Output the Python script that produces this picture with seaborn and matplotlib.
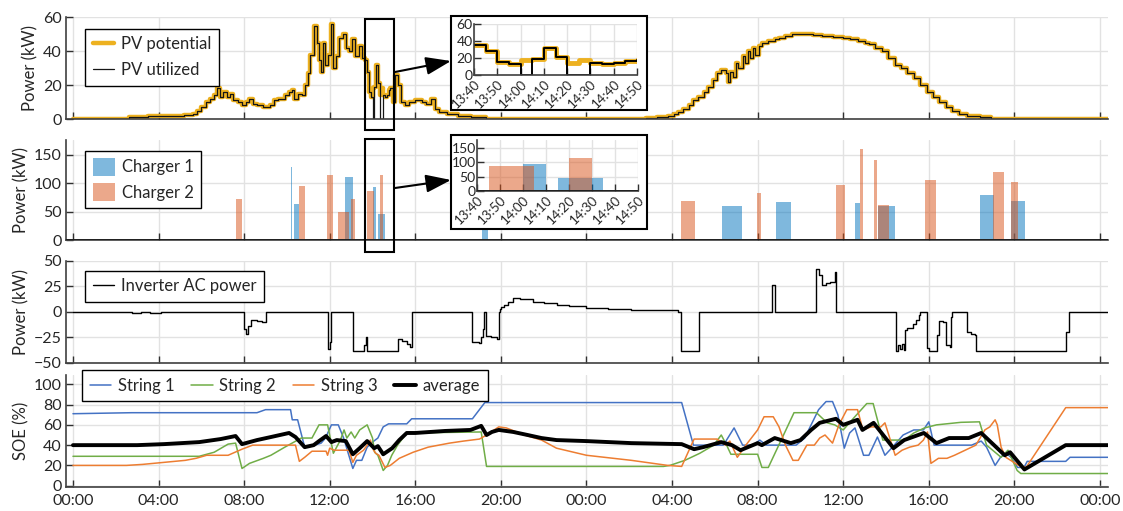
import numpy as np
import seaborn as sns
import matplotlib.pyplot as plt
from matplotlib.patches import Rectangle, FancyArrowPatch
from matplotlib.ticker import FuncFormatter

# time axis is hours counted from 00:00 of the first day

# PV power (kW), step values that hold from each time
pv_time = [0, 2.6, 3.5, 4.5, 5.2, 5.6, 5.8, 6.0, 6.2, 6.4, 6.6, 6.75, 6.85, 7.0, 7.2,
           7.35, 7.5, 7.7, 7.9, 8.1, 8.25, 8.4, 8.6, 8.9, 9.2, 9.4, 9.6, 9.9, 10.1,
           10.25, 10.35, 10.5, 10.7, 10.85, 11.0, 11.1, 11.25, 11.4, 11.5, 11.6, 11.7,
           11.8, 11.9, 12.05, 12.15, 12.3, 12.45, 12.6, 12.75, 12.9, 13.05, 13.2, 13.35,
           13.5, 13.6667, 13.75, 13.8333, 13.9167, 14.0, 14.0833, 14.1667, 14.25,
           14.3333, 14.4167, 14.5, 14.5833, 14.6667, 14.75, 14.8333, 14.95, 15.05,
           15.2, 15.35, 15.5, 15.7, 16.0, 16.3, 16.5, 16.75, 16.9, 17.1, 17.5, 18.0,
           18.6, 19.3, 26.8, 27.3, 27.8, 28.1, 28.3, 28.5, 28.8, 29.0, 29.2, 29.5,
           29.7, 29.9, 30.1, 30.3, 30.5, 30.6, 30.7, 30.85, 31.0, 31.1, 31.3, 31.4,
           31.55, 31.65, 31.8, 31.9, 32.05, 32.2, 32.5, 32.8, 33.0, 33.3, 33.6, 34.2,
           34.6, 35.0, 35.5, 36.0, 36.3, 36.7, 37.0, 37.2, 37.5, 37.8, 38.1, 38.4,
           38.7, 39.0, 39.3, 39.6, 39.9, 40.2, 40.5, 40.8, 41.1, 41.4, 41.8, 42.4,
           42.9, 48.4]
pv_potential = [0, 1, 1.5, 2, 2.5, 3, 5, 7, 10, 12, 14, 18, 13, 16, 13,
                15, 11, 10, 8, 10, 12, 9, 8, 7, 8, 11, 12, 14, 16,
                17, 12, 15, 14, 20, 27, 38, 55, 45, 35, 28, 45,
                32, 38, 56, 30, 37, 48, 50, 42, 40, 47, 37, 43,
                36, 35, 28, 16, 13, 18, 19, 32, 21,
                14, 18, 14, 13, 14, 17, 18, 10, 26,
                20, 10, 8, 10, 11, 10, 9, 12, 6, 4, 3, 2,
                1, 0, 0.5, 1, 2, 3, 4, 6, 8, 11, 13, 16,
                19, 23, 27, 29, 27, 22, 28, 25, 33, 30, 37, 33,
                40, 36, 42, 38, 43, 45, 46, 47, 48, 49, 50, 50,
                49.5, 49, 48.5, 48, 47, 46, 45, 44, 42, 40, 36, 32,
                30, 27, 24, 20, 16, 13, 10, 7, 5, 3, 2, 1,
                0, 0]
curtail_start = [14.0, 14.3333]
curtail_end = [14.0833, 14.5]

# charger power bars (start h, end h, kW)
c1_start = [10.17, 10.35, 12.72, 14.0, 14.25, 19.1, 30.34, 32.84, 36.57, 37.64, 42.4, 43.83]
c1_end = [10.22, 10.58, 13.1, 14.1667, 14.5833, 19.4, 31.27, 33.58, 36.8, 38.43, 43.04, 44.5]
c1_kw = [128, 64, 110, 94, 46, 60, 60, 66, 65, 59, 80, 69]
c2_start = [7.62, 10.58, 11.85, 12.4, 13.0, 13.75, 14.3333, 28.43, 31.99, 35.66, 36.77,
            37.42, 37.64, 39.84, 42.99, 43.83]
c2_end = [7.92, 10.85, 12.17, 12.9, 13.2, 14.0833, 14.5, 29.08, 32.17, 36.1, 36.94,
          37.59, 38.14, 40.33, 43.5, 44.15]
c2_kw = [73, 95, 115, 50, 73, 87, 114, 68, 83, 97, 160, 140, 62, 106, 120, 102]

# inverter AC power (kW), step values
inv_time = [0, 2.75, 3.2, 3.6, 4.1, 8.0, 8.08, 8.18, 8.33, 8.6, 8.83, 9.0, 11.92, 12.02,
            12.08, 13.08, 13.58, 13.68, 13.75, 15.17, 15.4, 15.6, 15.75, 15.83, 18.67,
            19.0, 19.08, 19.17, 19.22, 19.3, 19.55, 19.83, 19.9, 19.95, 20.0, 20.15,
            20.33, 20.58, 20.9, 21.5, 22.0, 22.6, 23.2, 24.0, 25.0, 26.1, 27.0, 28.0,
            28.3, 28.4, 29.26, 32.65, 32.82, 34.75, 34.85, 35.03, 35.2, 35.4, 35.6,
            35.67, 38.45, 38.55, 38.65, 38.75, 38.83, 38.87, 39.0, 39.25, 39.4, 39.55,
            39.6, 39.9, 40.0, 40.4, 40.5, 40.65, 40.8, 40.97, 41.05, 41.1, 41.8, 41.95,
            42.15, 42.2, 46.43, 46.55, 48.4]
inv_kw = [0, -1, -0.5, -1.5, 0, -17, -22, -14, -8, -9, -10, 0, -37, -30,
          0, -39, -33, -25, -39, -27, -29, -32, -35, 0, -30,
          -31, -25, -17, 0, -24, -25, -27, 0, 3, 5, 7,
          10, 13, 12, 10, 8.5, 7, 5.5, 4, 3, 2, 1.5, 1.3,
          0, -39, 0, 26, 0, 42, 36, 26, 28, 29, 39,
          0, -39, -33, -37, -32, -38, -18, -16, -12, -8, -3,
          0, -36, -39, -23, -9, -10, -33, -35, -5, 0, -20, -22,
          -23, -39, -20, 0, 0]

# state of energy (%)
s1_time = [0, 2.75, 8.6, 9.0, 10.17, 10.25, 10.5, 10.83, 11.3, 11.6, 11.8, 12.08, 12.4,
           12.65, 13.08, 13.25, 13.5, 13.75, 14.0, 14.25, 14.5, 14.75, 15.6, 15.83,
           18.67, 19.25, 28.45, 29.0, 30.4, 30.9, 31.3, 31.8, 32.1, 32.4, 33.8, 34.2,
           34.5, 34.85, 35.2, 35.5, 35.75, 36.05, 36.3, 36.55, 36.95, 37.2, 37.6, 37.95,
           38.3, 38.8, 39.3, 39.75, 40.0, 40.25, 42.0, 42.45, 42.7, 43.1, 43.35, 43.6,
           43.85, 44.15, 44.45, 44.6, 46.4, 46.6, 48.4]
s1_soe = [71, 72, 72, 75, 75, 65, 65, 38, 40, 42, 47, 60, 60,
          47, 17, 25, 25, 38, 43, 47, 58, 61, 61, 66,
          66, 82, 82, 40, 40, 57, 40, 40, 45, 40, 40, 47,
          60, 75, 83, 83, 70, 37, 52, 57, 30, 30, 48, 30,
          38, 50, 55, 55, 63, 40, 40, 44, 38, 20, 28, 32,
          28, 18, 18, 24, 24, 28, 28]
s2_time = [0, 5.9, 6.6, 7.25, 7.6, 7.9, 8.25, 8.9, 9.25, 9.9, 10.67, 11.17, 11.5, 11.9,
           12.17, 12.5, 12.67, 12.8, 13.0, 13.17, 13.4, 13.75, 14.0, 14.1, 14.25, 14.5,
           14.7, 14.9, 15.17, 15.6, 19.08, 19.33, 27.6, 27.9, 28.6, 29.3, 29.95, 30.3,
           30.55, 30.75, 32.0, 32.2, 32.5, 33.7, 34.75, 35.25, 35.6, 36.0, 36.5, 37.1,
           37.4, 37.85, 38.85, 39.3, 39.8, 40.36, 41.5, 42.37, 42.7, 43.38, 43.7, 44.13,
           44.3, 48.4]
s2_soe = [29, 29, 33, 41, 42, 17, 22, 27, 30, 38, 47, 47, 60, 60,
          32, 45, 55, 47, 53, 47, 55, 60, 47, 33, 30, 15,
          20, 30, 40, 52, 53, 19, 19, 20, 25, 32, 40, 50,
          40, 31, 31, 18, 18, 72, 72, 62, 60, 55, 67, 81,
          81, 45, 45, 52, 57, 60, 62.5, 63, 40, 28, 35, 15,
          12, 12]
s3_time = [0, 2.5, 3.25, 4.25, 5.25, 5.75, 6.25, 7.25, 7.9, 8.4, 10.4, 10.58, 10.83,
           11.17, 11.83, 11.9, 12.0, 12.2, 12.9, 13.08, 13.25, 13.58, 13.75, 13.9, 14.05,
           14.15, 14.3, 14.58, 14.83, 15.25, 15.9, 16.6, 17.6, 18.25, 19.0, 19.25, 19.9,
           20.25, 21.1, 21.9, 22.6, 24.0, 26.1, 27.8, 28.45, 29.03, 30.1, 30.5, 30.7,
           31.05, 31.45, 32.0, 32.3, 32.73, 33.0, 33.3, 33.65, 33.9, 34.3, 34.65, 34.9,
           35.15, 35.5, 35.8, 36.17, 36.67, 36.92, 37.3, 37.76, 37.95, 38.43, 38.75,
           39.1, 39.5, 39.75, 39.94, 40.1, 40.45, 40.85, 41.2, 41.7, 42.2, 42.62, 42.85,
           43.1, 43.2, 43.38, 43.6, 44.2, 44.55, 46.4, 48.4]
s3_soe = [20, 20, 21, 23, 25, 27, 30, 30, 36, 40, 40, 24, 28,
          34, 34, 30, 37, 35, 35, 23, 30, 35, 40, 45, 35,
          32, 30, 18, 20, 27, 33, 38, 42, 44, 46, 49, 58,
          57, 50, 45, 37, 30, 25, 20, 19, 46, 46, 40, 44,
          28, 40, 55, 68, 68, 58, 40, 25, 25, 40, 40, 47,
          50, 42, 60, 75, 75, 55, 58, 58, 62, 30, 35,
          38, 40, 45, 53, 22, 27, 27, 30, 35, 40, 55, 58,
          65, 60, 38, 28, 20, 18, 77, 77]
avg_time = [0, 3.0, 4.25, 5.9, 6.9, 7.6, 7.9, 8.6, 9.25, 10.1, 10.4, 10.83, 11.25, 11.5,
            11.83, 12.08, 12.33, 12.75, 13.08, 13.4, 13.75, 14.08, 14.25, 14.5, 14.92,
            15.25, 15.6, 16.0, 17.4, 18.58, 19.08, 19.33, 19.58, 19.9, 20.58, 21.25,
            21.9, 22.6, 24.0, 26.1, 28.45, 29.03, 29.45, 30.3, 30.8, 31.2, 32.0, 32.2,
            32.8, 33.55, 34.0, 34.5, 34.9, 35.66, 36.0, 36.67, 36.9, 37.42, 38.35, 38.85,
            39.77, 40.36, 40.95, 41.87, 42.45, 43.55, 43.8, 44.47, 46.4, 48.4]
avg_soe = [40, 40, 41, 43, 46, 49, 41, 45, 48, 52, 48, 38, 40, 44,
           49, 43, 45, 44, 31, 37, 44, 37, 39, 31, 37,
           45, 52, 52, 54, 55, 59, 50, 53, 55, 53, 50,
           47, 45, 44, 42, 41, 36, 38, 43, 40, 35, 42, 40,
           47, 42, 45, 55, 62, 66, 60, 65, 55, 62, 37, 45,
           52, 42, 47, 47, 52, 30, 33, 16, 40, 40]

pv_utilized = [0 if any(s <= t < e for s, e in zip(curtail_start, curtail_end)) else v
               for t, v in zip(pv_time, pv_potential)]

PV_COL = '#EDB120'
C1_COL = '#0072BD'
C2_COL = '#D95319'
S_COLS = ['#4472C4', '#70AD47', '#ED7D31']
TXT = '#262626'

sns.set_theme(style='whitegrid')
plt.rcParams['font.family'] = ['Lato', 'DejaVu Sans']
plt.rcParams['axes.edgecolor'] = '#404040'

W, H = 1123, 511
fig = plt.figure(figsize=(W / 100, H / 100), dpi=100, facecolor='white')


def px_axes(left, top, right, bottom, z=0):
    a = fig.add_axes([left / W, 1 - bottom / H, (right - left) / W, (bottom - top) / H])
    a.set_zorder(z)
    return a


def hhmm(h, pos=None):
    m = int(round(h * 60))
    return f'{(m // 60) % 24:02d}:{m % 60:02d}'


def style(ax, ylim, yticks, xlim, xticks, size=11.5):
    ax.set_xlim(xlim)
    ax.set_ylim(ylim)
    ax.set_xticks(xticks)
    ax.set_yticks(yticks)
    ax.xaxis.set_major_formatter(FuncFormatter(hhmm))
    ax.grid(True, color='#e2e2e2', lw=1)
    ax.set_facecolor('white')
    for s in ['top', 'right']:
        ax.spines[s].set_visible(False)
    for s in ['left', 'bottom']:
        ax.spines[s].set_color('#404040')
        ax.spines[s].set_linewidth(1.2)
    ax.tick_params(direction='in', length=5, width=1, color='#303030', labelcolor=TXT,
                   labelsize=size, left=True, bottom=True, pad=3)
    ax.set_xlabel('')
    ax.set_ylabel('')


def legend(ax, x, y, **kw):
    lg = ax.legend(loc='upper left', bbox_to_anchor=(x / W, 1 - y / H),
                   bbox_transform=fig.transFigure, borderaxespad=0, fontsize=12,
                   frameon=True, fancybox=False, framealpha=1, edgecolor='black',
                   handletextpad=0.4, borderpad=0.45, **kw)
    lg.get_frame().set_linewidth(1.0)
    return lg


XLIM = (-0.34, 48.39)
XT = list(range(0, 49, 4))

ax1 = px_axes(65.7, 17.3, 1108.3, 119)
ax2 = px_axes(65.7, 140, 1108.3, 240)
ax3 = px_axes(65.7, 260.7, 1108.3, 362.7)
ax4 = px_axes(65.7, 375.2, 1108.3, 486.7)

# panel 1: PV
sns.lineplot(x=pv_time, y=pv_potential, ax=ax1, drawstyle='steps-post', color=PV_COL,
             lw=3.2, label='PV potential', estimator=None)
sns.lineplot(x=pv_time, y=pv_utilized, ax=ax1, drawstyle='steps-post', color='#151515',
             lw=0.9, label='PV utilized', estimator=None)
style(ax1, (0, 60), [0, 20, 40, 60], XLIM, XT)
ax1.tick_params(labelbottom=False)
ax1.set_ylabel('Power (kW)', fontsize=12, color=TXT, labelpad=3)
legend(ax1, 85, 28.7, handlelength=1.3, labelspacing=0.6)
ax1.add_patch(Rectangle((13.65, -6.5), 1.35, 65.7, fill=False, ec='black', lw=1.5,
                        clip_on=False, zorder=6))

# panel 2: chargers
ax2.bar(c1_start, c1_kw, width=np.subtract(c1_end, c1_start), align='edge',
        color=C1_COL, alpha=0.5, lw=0, label='Charger 1')
ax2.bar(c2_start, c2_kw, width=np.subtract(c2_end, c2_start), align='edge',
        color=C2_COL, alpha=0.5, lw=0, label='Charger 2')
ax2.axhline(0, color='#1a1a1a', lw=2, zorder=4)
style(ax2, (0, 176), [0, 50, 100, 150], XLIM, XT)
ax2.tick_params(labelbottom=False)
ax2.set_ylabel('Power (kW)', fontsize=12, color=TXT, labelpad=3)
legend(ax2, 85, 150.5, handlelength=1.35, handleheight=1.25, labelspacing=0.45)
ax2.add_patch(Rectangle((13.65, -21), 1.35, 198, fill=False, ec='black', lw=1.5,
                        clip_on=False, zorder=6))

# panel 3: inverter
sns.lineplot(x=inv_time, y=inv_kw, ax=ax3, drawstyle='steps-post', color='black', lw=1,
             label='Inverter AC power', estimator=None)
style(ax3, (-50, 50), [-50, -25, 0, 25, 50], XLIM, XT)
ax3.tick_params(labelbottom=False)
ax3.set_ylabel('Power (kW)', fontsize=12, color=TXT, labelpad=3)
legend(ax3, 85, 270.8, handlelength=1.3)

# panel 4: SOE
for t, v, c, lab in [(s1_time, s1_soe, S_COLS[0], 'String 1'),
                     (s2_time, s2_soe, S_COLS[1], 'String 2'),
                     (s3_time, s3_soe, S_COLS[2], 'String 3')]:
    sns.lineplot(x=t, y=v, ax=ax4, color=c, lw=1.1, label=lab, estimator=None)
sns.lineplot(x=avg_time, y=avg_soe, ax=ax4, color='black', lw=2.8, label='average',
             estimator=None)
style(ax4, (-1, 109), [0, 20, 40, 60, 80, 100], XLIM, XT)
ax4.tick_params(axis='x', pad=5)
ax4.set_ylabel('SOE (%)', fontsize=12, color=TXT, labelpad=3)
legend(ax4, 82, 370.4, ncol=4, handlelength=1.3, columnspacing=1.0)

# inset boxes
for top, bottom in [(15.7, 110), (135, 229)]:
    fig.add_artist(Rectangle((451 / W, 1 - bottom / H), 196 / W, (bottom - top) / H,
                             transform=fig.transFigure, fc='white', ec='black', lw=1.5,
                             zorder=3))

IX = (13 + 40 / 60, 14 + 50 / 60)
IXT = [13 + 40 / 60 + k / 6 for k in range(8)]

in1 = px_axes(474, 24, 637, 75.3, z=4)
sns.lineplot(x=pv_time, y=pv_potential, ax=in1, drawstyle='steps-post', color=PV_COL,
             lw=3.5, estimator=None)
sns.lineplot(x=pv_time, y=pv_utilized, ax=in1, drawstyle='steps-post', color='black',
             lw=1.4, estimator=None)
style(in1, (0, 60), [0, 20, 40, 60], IX, IXT, size=10)

in2 = px_axes(477, 140, 638, 191, z=4)
in2.bar(c1_start, c1_kw, width=np.subtract(c1_end, c1_start), align='edge',
        color=C1_COL, alpha=0.5, lw=0)
in2.bar(c2_start, c2_kw, width=np.subtract(c2_end, c2_start), align='edge',
        color=C2_COL, alpha=0.5, lw=0)
in2.axhline(0, color='#1a1a1a', lw=2, zorder=4)
style(in2, (0, 176), [0, 50, 100, 150], IX, IXT, size=10)

for a in (in1, in2):
    a.tick_params(axis='x', labelsize=9.5, pad=2)
    a.tick_params(axis='y', pad=1)
    for lab in a.get_xticklabels():
        lab.set_rotation(45)
        lab.set_ha('right')
        lab.set_rotation_mode('anchor')

# arrows from the marked windows to the insets
for (x0, y0), (x1, y1) in [((395, 72), (451, 61)), ((395, 188), (451, 180))]:
    fig.add_artist(FancyArrowPatch((x0 / W, 1 - y0 / H), (x1 / W, 1 - y1 / H),
                                   transform=fig.transFigure,
                                   arrowstyle='-|>,head_length=0.7,head_width=0.25',
                                   mutation_scale=22, color='black', lw=1.5,
                                   shrinkA=0, shrinkB=0, zorder=5))

fig.savefig('out.png', dpi=100)
